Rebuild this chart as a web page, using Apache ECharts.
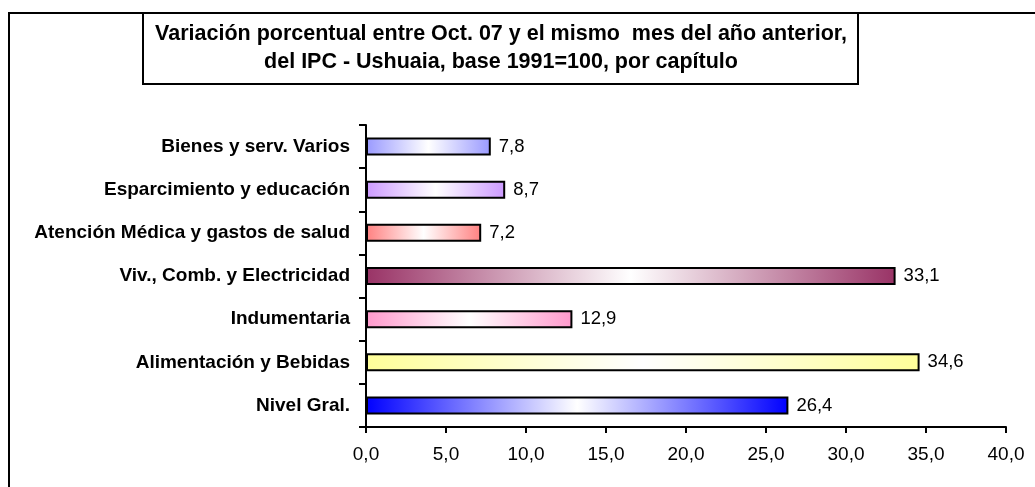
<!DOCTYPE html>
<html><head><meta charset="utf-8">
<script src="https://cdn.jsdelivr.net/npm/echarts@6/dist/echarts.min.js"></script>
<style>html,body{margin:0;padding:0;background:#fff}#c{width:1035px;height:487px}</style>
</head><body><div id="c"></div>
<script>
const categories = ["Bienes y serv. Varios","Esparcimiento y educación","Atención Médica y gastos de salud","Viv., Comb. y Electricidad","Indumentaria","Alimentación y Bebidas","Nivel Gral."];
const values = [7.8, 8.7, 7.2, 33.1, 12.9, 34.6, 26.4];
const barColors = ["#9999FF","#CC99FF","#FF8080","#993366","#FF99CC","#FFFF99","#0000FF"];
const xTicks = {min: 0, max: 40, interval: 5};
const titleLines = ["Variación porcentual entre Oct. 07 y el mismo  mes del año anterior,","del IPC - Ushuaia, base 1991=100, por capítulo"];

const fmt = v => v.toFixed(1).replace('.', ',');
const chart = echarts.init(document.getElementById('c'), null, {renderer:'canvas'});
const FONT = '"Liberation Sans", Arial, sans-serif';
chart.setOption({
  animation:false,
  backgroundColor:'#fff',
  textStyle:{fontFamily:FONT},
  graphic:[
    {type:'rect', shape:{x:9,y:13,width:1200,height:700}, style:{fill:null, stroke:'#000', lineWidth:2}, z:-1},
    {type:'rect', shape:{x:143,y:13,width:715,height:71}, style:{fill:'#fff', stroke:'#000', lineWidth:2}, z:1},
    {type:'text', x:501, y:48, z:2, style:{text:titleLines.join('\n'), fontFamily:FONT, fontWeight:'bold', fontSize:21.5, lineHeight:28, fill:'#000', align:'center', verticalAlign:'middle'}}
  ],
  grid:{left:366, right:29, top:125, bottom:60, containLabel:false},
  xAxis:{type:'value', min:xTicks.min, max:xTicks.max, interval:xTicks.interval,
    axisLine:{show:true, lineStyle:{color:'#000', width:2}},
    axisTick:{show:true, length:6, lineStyle:{color:'#000', width:2}},
    axisLabel:{formatter:v=>fmt(v), color:'#000', fontSize:19, margin:18, fontFamily:FONT},
    splitLine:{show:false}},
  yAxis:{type:'category', data:categories, inverse:true,
    axisLine:{show:true, lineStyle:{color:'#000', width:2}},
    axisTick:{show:true, length:7, alignWithLabel:false, lineStyle:{color:'#000', width:2}},
    axisLabel:{color:'#000', fontSize:19, fontWeight:'bold', margin:16, fontFamily:FONT}},
  series:[{type:'bar', barWidth:18,
    data: values.map((v,i)=>({value:v, itemStyle:{
      color:{type:'linear', x:0,y:0,x2:1,y2:0, colorStops:[{offset:0,color:barColors[i]},{offset:0.5,color:'#ffffff'},{offset:1,color:barColors[i]}]},
      borderColor:'#000', borderWidth:2}})),
    label:{show:true, position:'right', distance:8, formatter:p=>fmt(p.value), color:'#000', fontSize:18.5, fontFamily:FONT}
  }]
});
</script></body></html>
